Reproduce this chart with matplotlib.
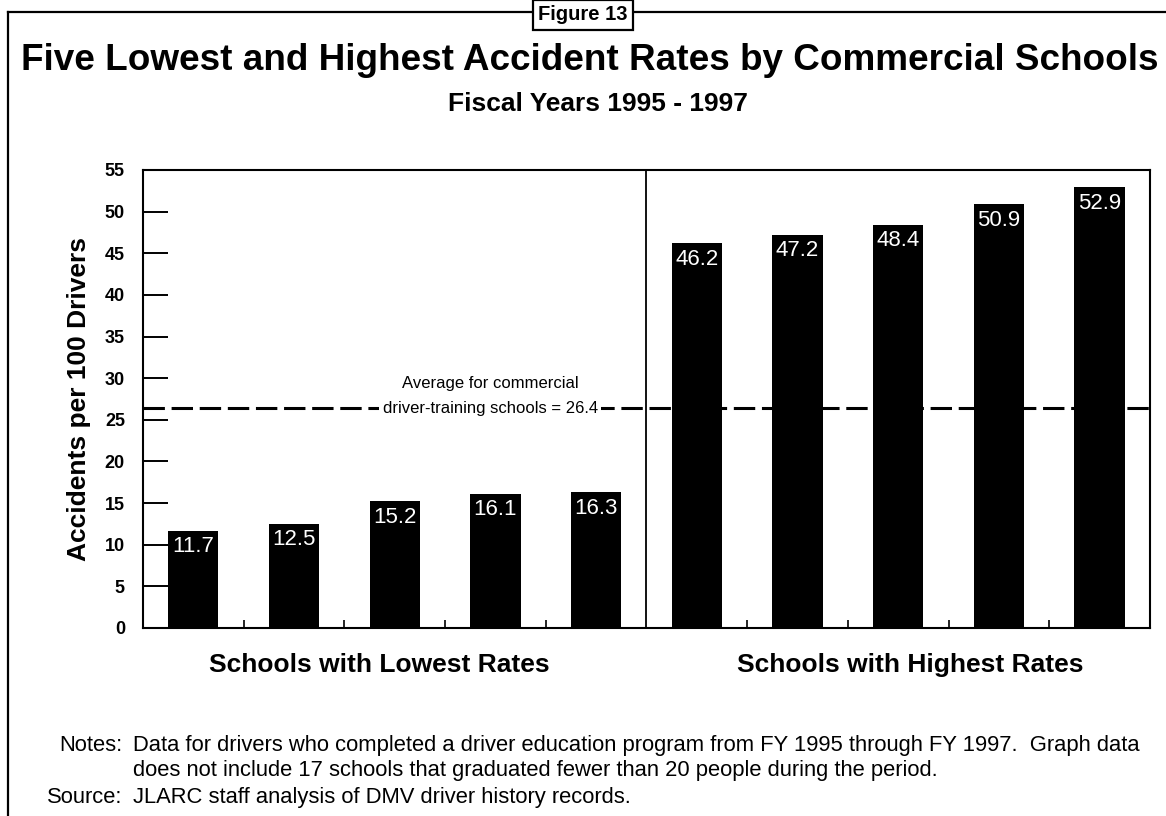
import matplotlib
matplotlib.use("Agg")
import matplotlib.pyplot as plt
from matplotlib.lines import Line2D
import numpy as np

plt.rcParams["font.family"] = ["Liberation Sans", "DejaVu Sans"]

# data
low_rates = [11.7, 12.5, 15.2, 16.1, 16.3]
high_rates = [46.2, 47.2, 48.4, 50.9, 52.9]
average_rate = 26.4
group_names = ["Schools with Lowest Rates", "Schools with Highest Rates"]
y_ticks = list(range(0, 56, 5))

rates = low_rates + high_rates
xpos = np.arange(len(rates))

fig = plt.figure(figsize=(11.66, 8.16), dpi=100)
ax = fig.add_axes([0.1226, 0.2304, 0.8637, 0.5613])

ax.bar(xpos, rates, width=0.5, color="black", zorder=2)
ax.set_xlim(-0.5, len(rates) - 0.5)
ax.set_ylim(0, 55)

# divider between the two groups
ax.axvline(len(low_rates) - 0.5, color="black", lw=1.3, zorder=3)

# average line
ax.axhline(average_rate, color="black", lw=2.2, dashes=(7, 2.2), zorder=3)
ax.text(2.95, average_rate + 3.0, "Average for commercial", ha="center", va="center",
        fontsize=12, zorder=4)
ax.text(2.95, average_rate, "driver-training schools = %.1f" % average_rate,
        ha="center", va="center", fontsize=12, zorder=4,
        bbox=dict(facecolor="white", edgecolor="none", pad=2.5))

# value labels inside bars
for x, v in zip(xpos, rates):
    ax.annotate("%.1f" % v, (x, v), xytext=(0, -4), textcoords="offset points",
                ha="center", va="top", color="white", fontsize=16, zorder=5)

# axes styling
for s in ax.spines.values():
    s.set_linewidth(1.5)
ax.set_yticks(y_ticks)
ax.tick_params(axis="y", direction="in", length=18, width=1.4, pad=13,
               labelsize=13)
for lab in ax.get_yticklabels():
    lab.set_fontweight("bold")
gap_ticks = [x + 0.5 for x in xpos[:-1] if x != len(low_rates) - 1]
ax.set_xticks(gap_ticks)
ax.tick_params(axis="x", direction="in", length=6, width=1.2, labelbottom=False)
ax.set_ylabel("Accidents per 100 Drivers", fontsize=19, fontweight="bold", labelpad=10)

# group labels under the axis
ax.text(1.85, -0.081, group_names[0], transform=ax.get_xaxis_transform(),
        ha="center", va="center", fontsize=19, fontweight="bold")
ax.text(7.12, -0.081, group_names[1], transform=ax.get_xaxis_transform(),
        ha="center", va="center", fontsize=19, fontweight="bold")

# titles
fig.text(0.506, 0.926, "Five Lowest and Highest Accident Rates by Commercial Schools",
         ha="center", va="center", fontsize=26.6, fontweight="bold")
fig.text(0.513, 0.873, "Fiscal Years 1995 - 1997", ha="center", va="center",
         fontsize=19, fontweight="bold")

# frame around the exhibit
fig.add_artist(Line2D([0.0069, 0.0069], [0.0, 0.9853], transform=fig.transFigure,
                      color="black", lw=1.6))
fig.add_artist(Line2D([0.0069, 1.0], [0.9853, 0.9853], transform=fig.transFigure,
                      color="black", lw=1.6))
fig.text(0.5, 0.982, "Figure 13", ha="center", va="center", fontsize=14.5,
         fontweight="bold", zorder=5,
         bbox=dict(facecolor="white", edgecolor="black", lw=1.6, pad=4))

# notes
fig.text(0.105, 0.087, "Notes:", ha="right", va="center", fontsize=15.8)
fig.text(0.114, 0.087, "Data for drivers who completed a driver education program "
         "from FY 1995 through FY 1997.  Graph data", ha="left", va="center", fontsize=15.8)
fig.text(0.114, 0.056, "does not include 17 schools that graduated fewer than 20 people "
         "during the period.", ha="left", va="center", fontsize=15.8)
fig.text(0.105, 0.023, "Source:", ha="right", va="center", fontsize=15.8)
fig.text(0.114, 0.023, "JLARC staff analysis of DMV driver history records.",
         ha="left", va="center", fontsize=15.8)

fig.savefig("out.png", dpi=100)
